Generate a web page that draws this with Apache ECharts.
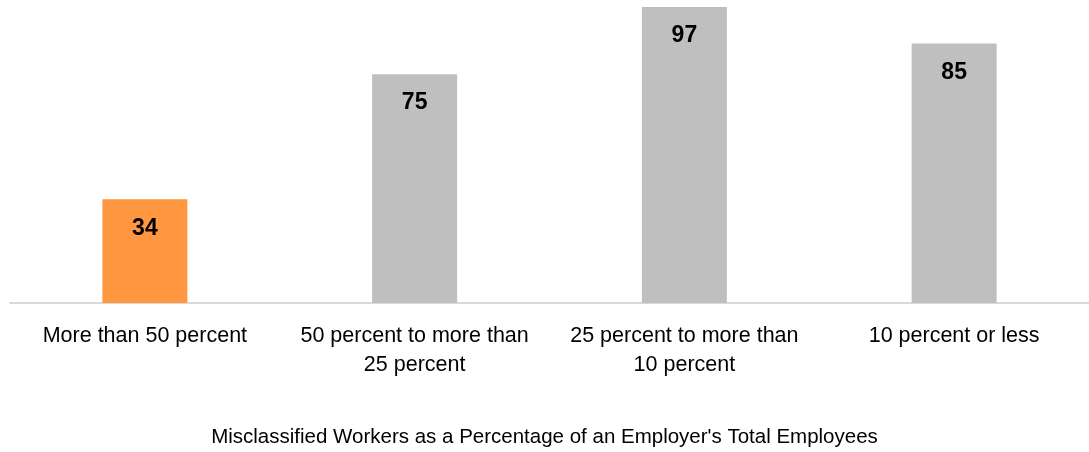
<!DOCTYPE html>
<html>
<head>
<meta charset="utf-8">
<script src="https://cdn.jsdelivr.net/npm/echarts@6/dist/echarts.min.js"></script>
<style>
html,body{margin:0;padding:0;background:#fff;}
#chart{width:1089px;height:452px;}
</style>
</head>
<body>
<div id="chart"></div>
<script>
const categories = ["More than 50 percent", "50 percent to more than\n25 percent", "25 percent to more than\n10 percent", "10 percent or less"];
const values = [34, 75, 97, 85];
const barColors = ["#FF9640", "#BFBFBF", "#BFBFBF", "#BFBFBF"];
const axisTitle = "Misclassified Workers as a Percentage of an Employer's Total Employees";

const FONT = "'Liberation Sans Narrow', 'Arial Narrow', 'Liberation Sans', Arial, sans-serif";
const chart = echarts.init(document.getElementById('chart'), null, {renderer: 'canvas'});
chart.setOption({
  animation: false,
  backgroundColor: '#fff',
  title: {
    text: axisTitle,
    left: 'center',
    top: 424,
    padding: 0,
    textStyle: {fontFamily: FONT, fontSize: 20.5, fontWeight: 'normal', color: '#000', lineHeight: 26}
  },
  grid: {left: 10, width: 1080, top: 7, bottom: 149, containLabel: false},
  xAxis: {
    type: 'category',
    data: categories,
    axisLine: {show: true, lineStyle: {color: '#D9D9D9', width: 2}},
    axisTick: {show: false},
    axisLabel: {interval: 0, margin: 19, fontFamily: FONT, fontSize: 21.5, lineHeight: 29, color: '#000', align: 'center'}
  },
  yAxis: {
    type: 'value',
    min: 0,
    max: 97,
    show: false,
    splitLine: {show: false}
  },
  series: [{
    type: 'bar',
    barWidth: 85,
    data: values.map((v, i) => ({value: v, itemStyle: {color: barColors[i]}})),
    label: {
      show: true,
      position: 'insideTop',
      distance: 17,
      fontFamily: FONT,
      fontSize: 23,
      lineHeight: 24,
      fontWeight: 'bold',
      color: '#000'
    }
  }]
});
</script>
</body>
</html>
